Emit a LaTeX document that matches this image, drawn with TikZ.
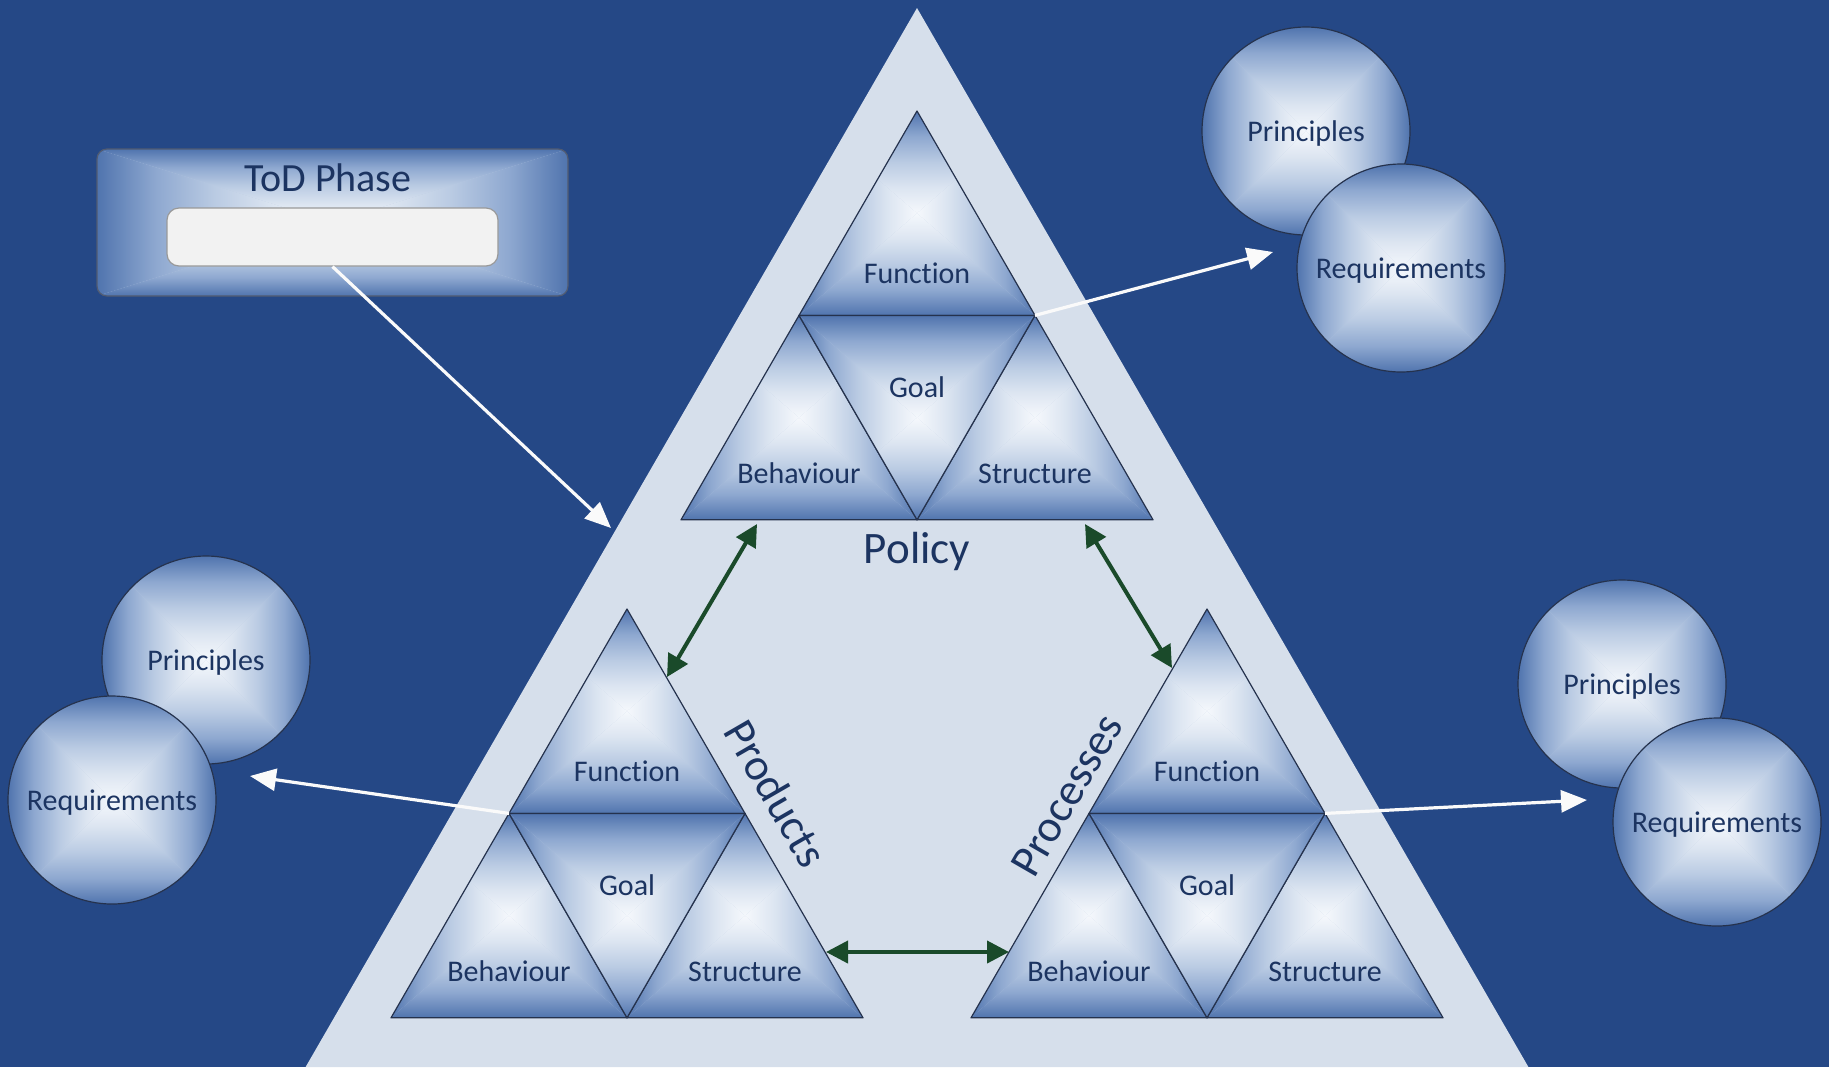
\documentclass[tikz,border=0pt]{standalone}
\usepackage{fontspec}
\setmainfont{Carlito}[Ligatures={NoCommon,NoRare,NoContextual}]
\usetikzlibrary{arrows.meta}
\definecolor{bgblue}{HTML}{254886}
\definecolor{lighttri}{HTML}{D6DFEB}
\definecolor{txtnavy}{HTML}{1C3461}
\definecolor{gA}{HTML}{F5F8FC}
\definecolor{gB}{HTML}{DCE5F1}
\definecolor{gC}{HTML}{BACBE3}
\definecolor{gD}{HTML}{8EA8D0}
\definecolor{gE}{HTML}{5074AE}
\definecolor{darkgreen}{HTML}{1A4A2A}
\definecolor{celledge}{HTML}{25324D}
\definecolor{innerfill}{HTML}{F2F2F2}
\pgfdeclareverticalshading{rgv}{100bp}{color(0bp)=(gA); color(25bp)=(gA); color(37.5bp)=(gB); color(50bp)=(gC); color(62.5bp)=(gD); color(75bp)=(gE); color(100bp)=(gE)}

% rectangular (from centre) gradient over box x1,y1,x2,y2
\newcommand\rgrad[4]{%
  \fill[gC] ({#1},{#2}) rectangle ({#3},{#4});
  \shade[shading=rgv] ({(#1+#3)/2},{(#2+#4)/2}) -- ({#1},{#2}) -- ({#3},{#2}) -- cycle;
  \shade[shading=rgv, shading angle=180] ({(#1+#3)/2},{(#2+#4)/2}) -- ({#1},{#4}) -- ({#3},{#4}) -- cycle;
  \shade[shading=rgv, shading angle=90] ({(#1+#3)/2},{(#2+#4)/2}) -- ({#1},{#2}) -- ({#1},{#4}) -- cycle;
  \shade[shading=rgv, shading angle=-90] ({(#1+#3)/2},{(#2+#4)/2}) -- ({#3},{#2}) -- ({#3},{#4}) -- cycle;
}
\newcommand\uptri[2]{%
  \begin{scope}
    \clip ({#1},{#2}) -- ({#1-118},{#2+204.4}) -- ({#1+118},{#2+204.4}) -- cycle;
    \rgrad{#1-118}{#2}{#1+118}{#2+204.4}
  \end{scope}
  \draw[cellborder] ({#1},{#2}) -- ({#1-118},{#2+204.4}) -- ({#1+118},{#2+204.4}) -- cycle;
}
\newcommand\dntri[2]{%
  \begin{scope}
    \clip ({#1},{#2}) -- ({#1-118},{#2-204.4}) -- ({#1+118},{#2-204.4}) -- cycle;
    \rgrad{#1-118}{#2-204.4}{#1+118}{#2}
  \end{scope}
  \draw[cellborder] ({#1},{#2}) -- ({#1-118},{#2-204.4}) -- ({#1+118},{#2-204.4}) -- cycle;
}
\newcommand\tgroup[3]{%
  \uptri{#1}{#2}
  \uptri{#1-118}{#2+204.4}
  \uptri{#1+118}{#2+204.4}
  \dntri{#1}{#2+408.8}
  \node[celllabel] (#3F) at ({#1},{#2+172}) {Function};
  \node[celllabel] (#3G) at ({#1},{#2+286}) {Goal};
  \node[celllabel] (#3B) at ({#1-118},{#2+372}) {Behaviour};
  \node[celllabel] (#3S) at ({#1+118},{#2+372}) {Structure};
  \coordinate (#3L) at ({#1-118},{#2+204.4});
  \coordinate (#3R) at ({#1+118},{#2+204.4});
}
\newcommand\ball[4]{%
  \begin{scope}
    \clip ({#1},{#2}) circle[radius=104];
    \rgrad{#1-104}{#2-104}{#1+104}{#2+104}
  \end{scope}
  \draw[ballborder] ({#1},{#2}) circle[radius=104];
  \node[balllabel] (#3) at ({#1},{#2+10}) {#4};
}

\begin{document}
\begin{tikzpicture}[x=0.5pt,y=-0.5pt,
  cellborder/.style={draw=celledge, line width=0.6pt, line join=round},
  ballborder/.style={draw=celledge, line width=0.6pt},
  celllabel/.style={text=txtnavy, font=\fontsize{15}{18}\selectfont, anchor=base, inner sep=0pt},
  balllabel/.style={text=txtnavy, font=\fontsize{15}{18}\selectfont, anchor=base, inner sep=0pt},
  biglabel/.style={text=txtnavy, font=\fontsize{22.5}{27}\selectfont, inner sep=0pt},
  titlelabel/.style={text=txtnavy, font=\fontsize{20}{24}\selectfont, anchor=base, inner sep=0pt},
  innerbox/.style={draw=gray!80, fill=innerfill, line width=0.6pt, rounded corners=6pt, minimum width=165.5pt, minimum height=29pt, inner sep=0pt},
  todborder/.style={draw=celledge!80, line width=0.6pt, rounded corners=5pt},
  whitearrow/.style={draw=white!96!gray, line width=1.6pt, arrows={-Triangle[length=13pt,width=11pt]}},
  greenarrow/.style={draw=darkgreen, line width=2pt, arrows={Triangle[length=11pt,width=11pt]-Triangle[length=11pt,width=11pt]}}
]
\useasboundingbox (0,0) rectangle (1829,1067);
\fill[bgblue] (0,0) rectangle (1829,1067);
\fill[lighttri] (917,8) -- (305.6,1067) -- (1528.4,1067) -- cycle;

% triangle groups
\tgroup{917}{111}{pol}
\tgroup{627}{609}{prd}
\tgroup{1207}{609}{prc}

\node[biglabel, anchor=base] (policy) at (917,563) {Policy};
\node[biglabel, rotate=-60] (products) at (776,793) {Products};
\node[biglabel, rotate=60] (processes) at (1067,795) {Processes};

% ToD box
\begin{scope}
  \clip[rounded corners=5pt] (97,149) rectangle (568,296);
  \rgrad{97}{149}{568}{296}
\end{scope}
\draw[todborder] (97,149) rectangle (568,296);
\node[titlelabel] (todtitle) at (328,191) {ToD Phase};
\node[innerbox] (todbox) at (332.5,237) {};

% circles
\ball{1306}{131}{trP}{Principles}
\ball{1401}{268}{trR}{Requirements}
\ball{206}{660}{lP}{Principles}
\ball{112}{800}{lR}{Requirements}
\ball{1622}{684}{rP}{Principles}
\ball{1717}{822}{rR}{Requirements}

% free arrow ends
\coordinate (todtip) at (611,528);
\coordinate (trtip) at (1273,252);
\coordinate (ltip) at (250,776);
\coordinate (rtip) at (1587,800);

\draw[whitearrow] (todbox.south) -- (todtip);
\draw[whitearrow] (polR) -- (trtip);
\draw[whitearrow] (prdL) -- (ltip);
\draw[whitearrow] (prcR) -- (rtip);

% green double arrows
\coordinate (g1a) at (757,524);
\coordinate (g1b) at (667,677);
\coordinate (g2a) at (1085,524);
\coordinate (g2b) at (1172,668);
\coordinate (g3a) at (826,952);
\coordinate (g3b) at (1009,952);
\draw[greenarrow] (g1a) -- (g1b);
\draw[greenarrow] (g2a) -- (g2b);
\draw[greenarrow] (g3a) -- (g3b);
\end{tikzpicture}
\end{document}
